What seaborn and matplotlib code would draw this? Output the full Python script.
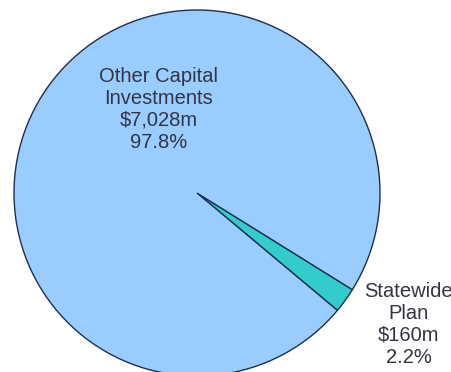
import matplotlib
matplotlib.use("Agg")
import matplotlib.pyplot as plt
import seaborn as sns

# Capital investment split
categories = ["Statewide\nPlan", "Other Capital\nInvestments"]
values = [160, 7028]  # $ millions
colors = ["#33CCCC", "#99CCFF"]

sns.set_style("white")
plt.rcParams["font.family"] = ["Liberation Sans", "DejaVu Sans"]

W, H = 452, 372
fig = plt.figure(figsize=(W / 100, H / 100), dpi=100)
ax = fig.add_axes([0, 0, 1, 1])

# pie centre and radius in pixels
cx, cy, r = 197, 193, 183

total = sum(values)
wedges, _ = ax.pie(
    values,
    colors=colors,
    startangle=-39.9,
    counterclock=True,
    radius=1.0,
    center=(0, 0),
    frame=True,
    wedgeprops=dict(edgecolor="#1F2F4F", linewidth=1.0),
)
ax.set_xlim(-cx / r, (W - cx) / r)
ax.set_ylim(-(H - cy) / r, cy / r)
ax.set_aspect("equal")
ax.axis("off")

label_pos = [((158.5 - cx) / r, (cy - 109.5) / r), ((408.5 - cx) / r, (cy - 324.5) / r)]
for name, v, (x, y) in zip(categories[::-1], values[::-1], label_pos):
    txt = f"{name}\n${v:,}m\n{100 * v / total:.1f}%"
    ax.text(x, y, txt, ha="center", va="center", fontsize=14.5,
            color="#333640", linespacing=1.19)

fig.savefig("out.png", dpi=100, facecolor="white")
